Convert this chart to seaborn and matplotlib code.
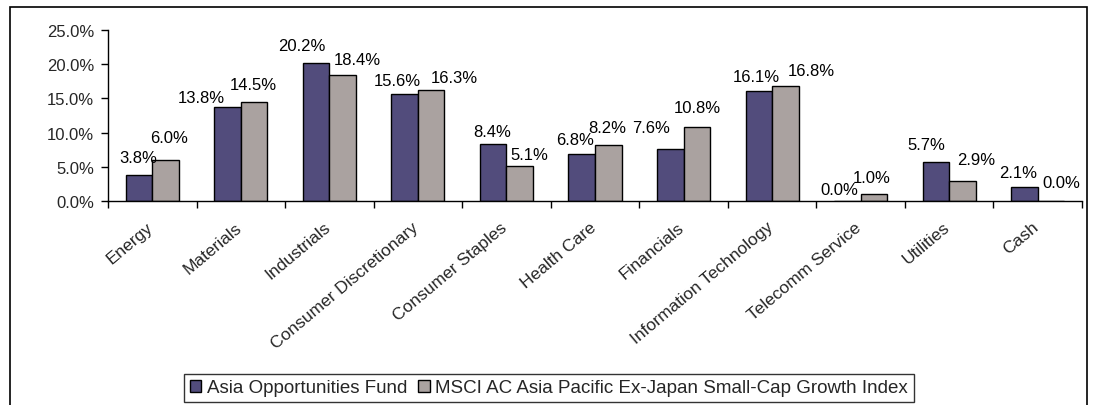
import matplotlib
matplotlib.use("Agg")
import matplotlib.pyplot as plt
from matplotlib.patches import Rectangle, Patch
from matplotlib.ticker import FuncFormatter, FixedLocator
from matplotlib.transforms import ScaledTranslation
import seaborn as sns
import pandas as pd
import numpy as np

categories = ["Energy", "Materials", "Industrials", "Consumer Discretionary",
              "Consumer Staples", "Health Care", "Financials",
              "Information Technology", "Telecomm Service", "Utilities", "Cash"]
fund = [3.8, 13.8, 20.2, 15.6, 8.4, 6.8, 7.6, 16.1, 0.0, 5.7, 2.1]
index_vals = [6.0, 14.5, 18.4, 16.3, 5.1, 8.2, 10.8, 16.8, 1.0, 2.9, 0.0]
series_names = ["Asia Opportunities Fund",
                "MSCI AC Asia Pacific Ex-Japan Small-Cap Growth Index"]
colors = ["#524C7C", "#AAA2A0"]

# label nudges (pixels: horizontal shift, gap above bar top) as placed in the reference
fund_label_dx = [-1, -26, -14, -7, -1, -7, -19, -2, -8, -10, -6]
fund_label_gap = [13, 5, 13, 9, 8, 10, 17, 10, 7, 13, 10]
index_label_dx = [4, -1, 15, 23, 10, -1, 0, 26, -2, 14, 10]
index_label_gap = [18, 13, 11, 8, 7, 13, 15, 11, 12, 17, 14]

df = pd.DataFrame({
    "sector": categories * 2,
    "value": fund + index_vals,
    "series": [series_names[0]] * len(categories) + [series_names[1]] * len(categories),
})

sns.set_theme(style="white")
plt.rcParams["font.family"] = ["Liberation Sans", "DejaVu Sans"]

fig = plt.figure(figsize=(10.94, 4.06), dpi=100)
ax = fig.add_axes([108 / 1094, 1 - 202 / 406, (1082 - 108) / 1094, (202 - 31) / 406])

sns.barplot(data=df, x="sector", y="value", hue="series", order=categories,
            hue_order=series_names, palette=colors, width=0.6,
            edgecolor="black", linewidth=1.0, saturation=1, ax=ax, legend=False)

px2pt = 72 / fig.dpi
nudges = [(fund_label_dx, fund_label_gap), (index_label_dx, index_label_gap)]
for cont, (dxs, gaps) in zip(ax.containers, nudges):
    for bar, dx, gap in zip(cont, dxs, gaps):
        h = bar.get_height()
        xc = bar.get_x() + bar.get_width() / 2
        ax.annotate(f"{h:.1f}%", xy=(xc, h), xytext=(dx * px2pt, gap * px2pt),
                    textcoords="offset points", ha="center", va="baseline",
                    fontsize=12, color="black", annotation_clip=False)

ax.set_xlim(-0.5, len(categories) - 0.5)
ax.set_ylim(0, 25)
ax.set_yticks([0, 5, 10, 15, 20, 25])
ax.yaxis.set_major_formatter(FuncFormatter(lambda v, p: f"{v:.1f}%"))
ax.tick_params(axis="y", direction="out", length=5, width=1, color="black",
               labelsize=12, left=True, pad=5)

ax.set_xticks(range(len(categories)))
ax.set_xticklabels(categories, rotation=40, ha="right", rotation_mode="anchor",
                   fontsize=12.5)
ax.tick_params(axis="x", which="major", length=0, pad=13)
shift = ScaledTranslation(-6 / 100, 0, fig.dpi_scale_trans)
for lbl in ax.get_xticklabels():
    lbl.set_transform(lbl.get_transform() + shift)
ax.xaxis.set_minor_locator(FixedLocator(np.arange(-0.5, len(categories), 1.0)))
ax.tick_params(axis="x", which="minor", direction="out", length=5, width=1,
               color="black", bottom=True)

ax.set_xlabel("")
ax.set_ylabel("")
for s in ["top", "right"]:
    ax.spines[s].set_visible(False)
for s in ["left", "bottom"]:
    ax.spines[s].set_color("black")
    ax.spines[s].set_linewidth(1)
ax.grid(False)

handles = [Patch(facecolor=c, edgecolor="black", linewidth=1) for c in colors]
leg = fig.legend(handles, series_names, loc="center", bbox_to_anchor=(549 / 1094, 1 - 389 / 406),
                 ncol=2, frameon=True, fancybox=False, fontsize=13.5,
                 handlelength=0.6, handleheight=0.6, handletextpad=0.3,
                 columnspacing=0.6, borderpad=0.3, borderaxespad=0)
leg.get_frame().set_edgecolor("black")
leg.get_frame().set_linewidth(1)

fig.add_artist(Rectangle((10 / 1094, -0.05), (1087 - 10) / 1094, 0.05 + (1 - 8 / 406),
                         transform=fig.transFigure, fill=False, edgecolor="black",
                         linewidth=1.2))

fig.savefig("out.png", dpi=100)
